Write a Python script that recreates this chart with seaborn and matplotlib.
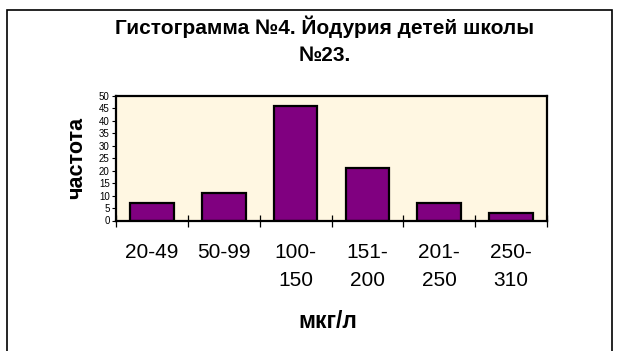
import matplotlib
matplotlib.use("Agg")
import matplotlib.pyplot as plt
import matplotlib.patches as mpatches
import seaborn as sns
import pandas as pd

# Iodine-in-urine intervals (мкг/л) and how many children fall in each
categories = ["20-49", "50-99", "100-\n150", "151-\n200", "201-\n250", "250-\n310"]
counts = [7, 11, 46, 21, 7, 3]
y_ticks = list(range(0, 51, 5))

title = "Гистограмма №4. Йодурия детей школы\n№23."
x_label = "мкг/л"
y_label = "частота"

sns.set_theme(style="white")
plt.rcParams["font.family"] = ["Liberation Sans", "DejaVu Sans"]
for key in ("text.color", "axes.labelcolor", "xtick.color", "ytick.color"):
    plt.rcParams[key] = "black"

W, H = 617, 351
fig = plt.figure(figsize=(W / 100, H / 100), dpi=100)
fig.patch.set_facecolor("white")

# plot area in pixels: left, right, top, bottom
L, R, T, B = 116, 547, 96, 220.5
ax = fig.add_axes([L / W, (H - B) / H, (R - L) / W, (B - T) / H])
ax.set_facecolor("#FFF7E2")

df = pd.DataFrame({"interval": categories, "count": counts})
sns.barplot(data=df, x="interval", y="count", order=categories,
            color="#800080", saturation=1, width=0.61,
            edgecolor="black", linewidth=1.6, ax=ax)

ax.set_xlim(-0.5, len(categories) - 0.5)
ax.set_ylim(0, 50)
ax.set_yticks(y_ticks)
ax.set_yticklabels([str(v) for v in y_ticks], fontsize=7)
ax.tick_params(axis="y", left=True, direction="out", length=3, width=0.8,
               pad=1.5, colors="black")

# category labels sit between boundary ticks
ax.set_xticks(range(len(categories)))
ax.set_xticklabels(categories, fontsize=15, linespacing=1.6)
ax.tick_params(axis="x", which="major", length=0, pad=16, colors="black")
ax.set_xticks([i - 0.5 for i in range(len(categories) + 1)], minor=True)
ax.tick_params(axis="x", which="minor", bottom=True, direction="inout",
               length=9, width=0.9, color="black")

for s in ax.spines.values():
    s.set_visible(True)
    s.set_color("black")
    s.set_linewidth(1.6)

ax.set_xlabel(x_label, fontsize=16.5, fontweight="bold", va="center")
ax.xaxis.set_label_coords((327.5 - L) / (R - L), (B - 321) / (B - T))
ax.set_ylabel(y_label, fontsize=15.5, fontweight="bold", va="center")
ax.yaxis.set_label_coords((77 - L) / (R - L), (B - 157.5) / (B - T))

fig.text(325 / W, 1 - 40.5 / H, title, ha="center", va="center",
         multialignment="center", fontsize=15, fontweight="bold",
         linespacing=1.52)

# outer frame of the chart
fig.patches.append(mpatches.Rectangle((7 / W, -0.05), (612 - 7) / W, 1.05 - 9.5 / H,
                                      transform=fig.transFigure, fill=False,
                                      edgecolor="black", linewidth=1.2))

fig.savefig("out.png", dpi=100)
